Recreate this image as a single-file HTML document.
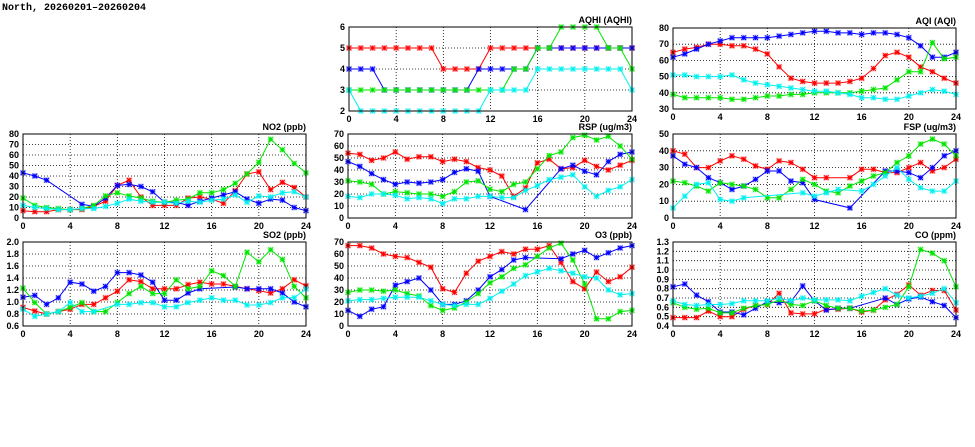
<!DOCTYPE html>
<html><head><meta charset="utf-8">
<style>
html,body{margin:0;padding:0;background:#fff;}
svg{display:block;font-family:"Liberation Sans",sans-serif;}
.t{font-size:9px;font-weight:bold;fill:#000;}
.title{font-size:10px;font-weight:bold;fill:#000;}
</style></head>
<body>
<svg id="chart" width="975" height="447" viewBox="0 0 975 447">
<text x="2" y="10" class="title" font-family="Liberation Mono, monospace">North, 20260201–20260204</text>
</svg>
<script>
const hours = Array.from({length:25},(_, i)=>i);
const xTicks = [0,4,8,12,16,20,24];
const seriesColors = ['#ff0000','#0000ff','#00e600','#00f0f0'];

const aqhiRed   = [5,5,5,5,5,5,5,5,4,4,4,4,5,5,5,5,5,5,5,5,5,5,5,5,5];
const aqhiBlue  = [4,4,4,3,3,3,3,3,3,3,3,4,4,4,4,4,5,5,5,5,5,5,5,5,5];
const aqhiGreen = [3,3,3,3,3,3,3,3,3,3,3,3,3,3,4,4,5,5,6,6,6,6,5,5,4];
const aqhiCyan  = [3,2,2,2,2,2,2,2,2,2,2,2,3,3,3,3,4,4,4,4,4,4,4,4,3];
const aqhiTicks = [2,3,4,5,6];

const aqiRed   = [65,67,68,70,70,69,69,67,64,56,49,47,46,46,46,47,49,55,63,65,62,56,53,49,46];
const aqiBlue  = [62,64,67,70,72,74,74,74,74,75,76,77,78,78,77,77,76,77,77,76,74,69,62,62,65];
const aqiGreen = [39,37,37,37,37,36,36,37,38,38,39,39,40,40,40,40,41,42,43,48,53,53,71,61,62];
const aqiCyan  = [51,51,50,50,50,51,48,46,45,44,43,42,41,41,40,39,37,37,36,36,38,40,42,41,39];
const aqiTicks = [30,40,50,60,70,80];

const no2Red   = [7,6,6,8,8,8,11,16,31,36,20,12,12,12,19,20,18,14,26,42,44,27,34,29,20];
const no2Blue  = [43,40,36,null,null,13,11,19,31,32,30,25,15,15,12,16,19,22,25,18,14,18,17,10,7];
const no2Green = [19,12,10,9,8,9,12,21,24,21,19,16,15,17,18,24,24,27,33,42,53,75,65,52,43];
const no2Cyan  = [12,10,9,8,8,9,9,11,14,18,16,15,15,14,16,15,17,18,22,15,21,20,24,25,20];
const no2Ticks = [0,10,20,30,40,50,60,70,80];

const rspRed   = [54,53,48,50,55,49,51,51,47,49,47,42,40,35,18,25,46,49,41,42,48,43,40,44,48];
const rspBlue  = [47,43,37,32,28,30,29,30,32,38,41,39,18,null,null,7,null,null,41,44,39,36,47,53,55];
const rspGreen = [31,30,28,20,22,21,20,20,18,22,30,31,24,22,28,30,41,52,55,67,69,65,68,60,49];
const rspCyan  = [18,17,20,20,19,16,17,16,12,16,16,18,18,17,17,23,27,32,34,36,26,18,23,26,32];
const rspTicks = [0,10,20,30,40,50,60,70];

const fspRed   = [40,38,30,30,34,37,35,31,29,34,33,29,24,24,null,24,29,29,27,27,30,33,28,30,35];
const fspBlue  = [37,32,30,24,21,17,19,23,28,28,22,21,11,null,null,6,null,null,28,28,27,24,30,37,40];
const fspGreen = [22,21,19,16,21,20,19,17,12,12,17,23,20,16,15,19,22,25,27,33,37,44,47,44,37];
const fspCyan  = [6,13,20,21,11,10,12,null,null,null,null,15,13,15,17,null,16,20,25,30,23,18,16,16,22];
const fspTicks = [0,10,20,30,40,50];

const so2Red   = [0.91,0.85,0.80,0.84,0.88,0.96,0.96,1.07,1.18,1.37,1.34,1.22,1.22,1.22,1.29,1.33,1.30,1.30,1.26,1.22,1.19,1.15,1.22,1.37,1.27];
const so2Blue  = [1.08,1.11,0.96,1.07,1.33,1.30,1.18,1.26,1.49,1.49,1.45,1.33,1.03,1.03,1.15,1.22,null,null,1.25,1.22,1.22,1.22,1.15,1.00,0.92];
const so2Green = [1.23,0.99,0.80,0.84,0.91,0.99,0.84,0.84,0.99,1.14,1.26,1.14,1.14,1.37,1.22,1.26,1.52,1.44,1.26,1.83,1.67,1.87,1.71,1.26,1.07];
const so2Cyan  = [0.88,0.76,0.80,0.84,0.99,0.84,0.84,null,0.96,0.96,0.99,0.99,0.92,0.92,0.99,1.03,1.07,1.03,1.03,0.95,0.95,0.99,1.07,1.07,1.22];
const so2Ticks = [0.6,0.8,1.0,1.2,1.4,1.6,1.8,2.0];

const o3Red   = [67,67,65,60,58,57,53,49,31,28,44,54,58,62,60,64,64,67,53,37,31,45,37,41,49];
const o3Blue  = [13,8,14,16,34,37,40,30,18,18,21,30,41,47,55,57,null,null,56,60,63,57,61,65,67];
const o3Green = [28,30,30,29,30,27,25,17,13,15,20,27,36,41,48,51,58,65,69,55,35,6,6,12,13];
const o3Cyan  = [21,22,22,23,24,24,24,21,18,17,18,18,23,29,35,42,45,48,46,44,41,40,30,26,27];
const o3Ticks = [0,10,20,30,40,50,60,70];

const coRed   = [0.49,0.49,0.49,0.56,0.50,0.50,0.58,0.62,0.63,0.75,0.54,0.53,0.53,0.58,0.58,0.59,0.55,0.57,0.68,0.74,0.84,0.73,0.78,0.78,0.57];
const coBlue  = [0.82,0.85,0.73,0.66,0.55,0.55,0.52,0.59,0.66,0.65,0.66,0.83,0.67,0.57,0.59,0.59,null,null,0.70,0.63,0.69,0.71,0.66,0.62,0.49];
const coGreen = [0.65,0.60,0.58,0.59,0.54,0.54,0.59,0.62,0.63,0.68,0.63,0.62,0.67,0.62,0.59,0.59,0.56,0.57,0.60,0.63,0.82,1.22,1.18,1.10,0.82];
const coCyan  = [0.67,0.63,0.62,0.63,0.63,0.64,0.67,0.67,0.67,0.70,0.67,0.70,0.68,0.68,0.68,0.67,0.72,0.76,0.80,0.73,0.70,0.72,0.75,0.80,0.65];
const coTicks = [0.4,0.5,0.6,0.7,0.8,0.9,1.0,1.1,1.2,1.3];

const NS='http://www.w3.org/2000/svg';
const svg=document.getElementById('chart');
function mk(tag,attrs,parent){const e=document.createElementNS(NS,tag);for(const k in attrs)e.setAttribute(k,attrs[k]);(parent||svg).appendChild(e);return e;}

function panel(cfg){
  const {id,title,x0,x1,y0,y1,ticks,series,dec,xlabels}=cfg;
  const g=mk('g',{});
  
  
  const lo=ticks[0], hi=ticks[ticks.length-1];
  const sx=v=>x0+(v-0)/24*(x1-x0);
  const sy=v=>y1-(v-lo)/(hi-lo)*(y1-y0);
  ticks.forEach(t=>{
    const y=sy(t);
    if(t!==lo&&t!==hi){const l=mk('line',{x1:x0,x2:x1,y1:y,y2:y,stroke:'#000','stroke-width':0.8,'stroke-dasharray':'1,2'},g);
      
      }
    const tx=mk('text',{x:x0-4,y:y+3,'text-anchor':'end',class:'t'},g);
    
    
    tx.textContent=t.toFixed(dec);
  });
  xTicks.forEach(t=>{
    const x=sx(t);
    if(t!==0&&t!==24){const l=mk('line',{x1:x,x2:x,y1:y0,y2:y1,stroke:'#000','stroke-width':0.8,'stroke-dasharray':'1,2'},g);
      
      }
    if(xlabels){const tx=mk('text',{x:x,y:y1+11,'text-anchor':'middle',class:'t'},g);
      
      
      tx.textContent=t;}
  });
  const ttl=mk('text',{x:x1,y:y0-4,'text-anchor':'end',class:'t'},g);
  
  
  ttl.textContent=title;
  series.forEach((vals,si)=>{
    const c=seriesColors[si];
    const pts=[];
    vals.forEach((v,i)=>{if(v!==null)pts.push([sx(hours[i]),sy(v)]);});
    const pl=mk('polyline',{points:pts.map(p=>p[0].toFixed(1)+','+p[1].toFixed(1)).join(' '),fill:'none',stroke:c,'stroke-width':1},g);
    
    
    pts.forEach(p=>{
      const m=mk('g',{},g);
      
      
      mk('rect',{x:p[0]-3,y:p[1]-3,width:6,height:6,fill:c,opacity:0.22},m);
      const d=2.3;
      mk('path',{d:`M${p[0]-d},${p[1]-d}L${p[0]+d},${p[1]+d}M${p[0]-d},${p[1]+d}L${p[0]+d},${p[1]-d}M${p[0]},${p[1]-d}L${p[0]},${p[1]+d}M${p[0]-d},${p[1]}L${p[0]+d},${p[1]}`,stroke:c,'stroke-width':1},m);
    });
  });
  const b=mk('rect',{x:x0,y:y0,width:x1-x0,height:y1-y0,fill:'none',stroke:'#000','stroke-width':1},g);
  
  
}

panel({id:'aqhi',title:'AQHI (AQHI)',x0:349,x1:632,y0:27,y1:111,ticks:aqhiTicks,dec:0,xlabels:true,series:[aqhiRed,aqhiBlue,aqhiGreen,aqhiCyan]});
panel({id:'aqi',title:'AQI (AQI)',x0:673,x1:956,y0:28,y1:109,ticks:aqiTicks,dec:0,xlabels:true,series:[aqiRed,aqiBlue,aqiGreen,aqiCyan]});
panel({id:'no2',title:'NO2 (ppb)',x0:23,x1:306,y0:134,y1:218,ticks:no2Ticks,dec:0,xlabels:true,series:[no2Red,no2Blue,no2Green,no2Cyan]});
panel({id:'rsp',title:'RSP (ug/m3)',x0:348,x1:632,y0:134,y1:218,ticks:rspTicks,dec:0,xlabels:true,series:[rspRed,rspBlue,rspGreen,rspCyan]});
panel({id:'fsp',title:'FSP (ug/m3)',x0:673,x1:956,y0:134,y1:218,ticks:fspTicks,dec:0,xlabels:true,series:[fspRed,fspBlue,fspGreen,fspCyan]});
panel({id:'so2',title:'SO2 (ppb)',x0:23,x1:306,y0:242,y1:326,ticks:so2Ticks,dec:1,xlabels:true,series:[so2Red,so2Blue,so2Green,so2Cyan]});
panel({id:'o3',title:'O3 (ppb)',x0:348,x1:632,y0:242,y1:326,ticks:o3Ticks,dec:0,xlabels:true,series:[o3Red,o3Blue,o3Green,o3Cyan]});
panel({id:'co',title:'CO (ppm)',x0:673,x1:956,y0:242,y1:326,ticks:coTicks,dec:1,xlabels:true,series:[coRed,coBlue,coGreen,coCyan]});
</script>
</body></html>
